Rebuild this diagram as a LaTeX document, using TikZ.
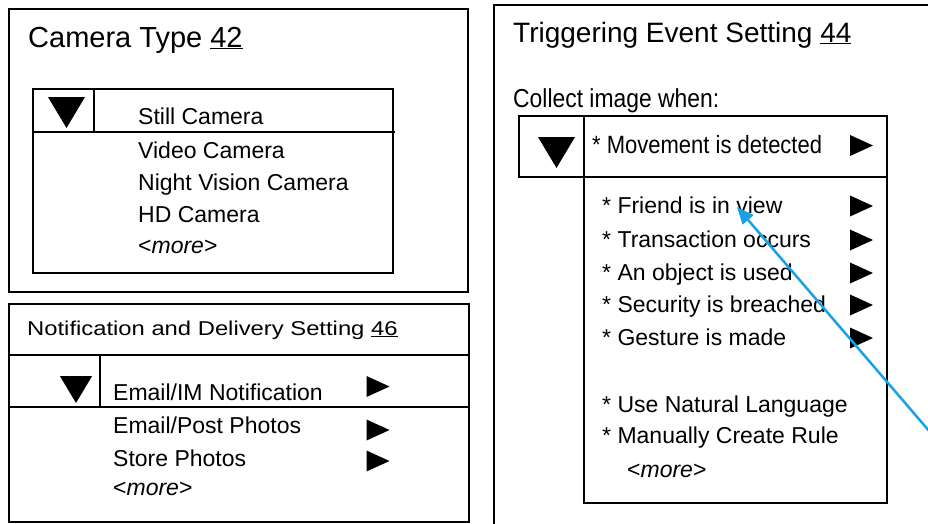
\documentclass[tikz,border=0pt]{standalone}
\usepackage{fontspec}
\setmainfont{Liberation Sans}
\newfontfamily\widefont[FakeStretch=1.19]{Liberation Sans}
\newfontfamily\narrowfont[FakeStretch=0.88]{Liberation Sans}
\usetikzlibrary{arrows.meta, positioning}
\definecolor{pointerblue}{RGB}{27,161,226}
\tikzset{
    x=1pt, y=-1pt, line width=1.8pt,% one unit is one pixel of the screen, y runs downwards
    panel/.style = {draw, line width=1.8pt},
    item/.style = {anchor=base west, inner sep=0pt, font=\fontsize{23}{27}\selectfont},
    heading/.style = {anchor=base west, inner sep=0pt, font=\fontsize{29}{34}\selectfont},
    pics/droptri/.style = {code={\fill (-18.5,-15.5) -- (18.5,-15.5) -- (0,15.5) -- cycle;}},% the drop down button
    pics/playtri/.style = {code={\fill (-11.5,-10.5) -- (11.5,0) -- (-11.5,10.5) -- cycle;}}% the sub menu marker
}
\begin{document}
\begin{tikzpicture}
    \clip (0,0) rectangle (928,523);

    % camera type panel
    \draw[panel] (9,9) rectangle (468,292);
    \node[heading] (camtitle) at (28,47) {Camera Type \underline{42}};
    \draw[panel] (33,89) rectangle (393,273);
    \draw[panel] (33,132) -- (395,132);
    \draw[panel] (94,89) -- (94,132);
    \pic at (66.5,112.5) {droptri};
    \node[item] (still) at (138,124) {Still Camera};
    \node[item] (video) at (138,158) {Video Camera};
    \node[item] (night) at (138,190) {Night Vision Camera};
    \node[item] (hd) at (138,222) {HD Camera};
    \node[item] (cammore) at (138,253) {<\textit{more}>};

    % notification panel
    \draw[panel] (9,304) rectangle (469,522);
    \node[item, font=\fontsize{20}{24}\widefont] (nottitle) at (27,335) {Notification and Delivery Setting \underline{46}};
    \draw[panel] (9,355) -- (469,355);
    \draw[panel] (9,407) -- (469,407);
    \draw[panel] (100,355) -- (100,407);
    \pic[scale=0.87] at (76,389.5) {droptri};
    \node[item] (email) at (113,400) {Email/IM Notification};
    \node[item] (post) at (113,433) {Email/Post Photos};
    \node[item] (store) at (113,466) {Store Photos};
    \node[item] (notmore) at (113,495) {<\textit{more}>};
    \pic at (378,386.5) {playtri};
    \pic at (378,430) {playtri};
    \pic at (378,461) {playtri};

    % triggering event panel
    \draw[panel] (494,5) rectangle (960,560);
    \node[heading, font=\fontsize{28}{33}\selectfont] (trigtitle) at (513,42) {Triggering Event Setting \underline{44}};
    \node[item, font=\fontsize{26}{30}\narrowfont] (collect) at (513,107) {Collect image when:};
    \draw[panel, line width=2.4pt] (519,116) rectangle (887,177);
    \draw[panel, line width=2.4pt] (584,116) -- (584,177);
    \draw[panel] (584,177) rectangle (887,503);
    \pic at (556.5,152.5) {droptri};
    \node[item, font=\fontsize{25}{30}\narrowfont] (movement) at (592,153) {* Movement is detected};
    \pic at (861.5,145.5) {playtri};
    \node[item] (friend) at (602,213) {* Friend is in view};
    \node[item] (transaction) at (602,247) {* Transaction occurs};
    \node[item] (object) at (602,280) {* An object is used};
    \node[item] (security) at (602,312) {* Security is breached};
    \node[item] (gesture) at (602,345) {* Gesture is made};
    \node[item] (natural) at (602,412) {* Use Natural Language};
    \node[item] (manual) at (602,443) {* Manually Create Rule};
    \node[item] (trigmore) at (627,477) {<\textit{more}>};
    \foreach \y in {206,240,273,305,338}
        \pic at (861.5,\y) {playtri};

    % pointer
    \coordinate (pointer tail) at (960,467);
    \coordinate (pointer tip) at (737,207);
    \draw[pointerblue, line width=2.5pt, -{Triangle[length=17pt,width=14pt]}] (pointer tail) -- (pointer tip);
\end{tikzpicture}
\end{document}
